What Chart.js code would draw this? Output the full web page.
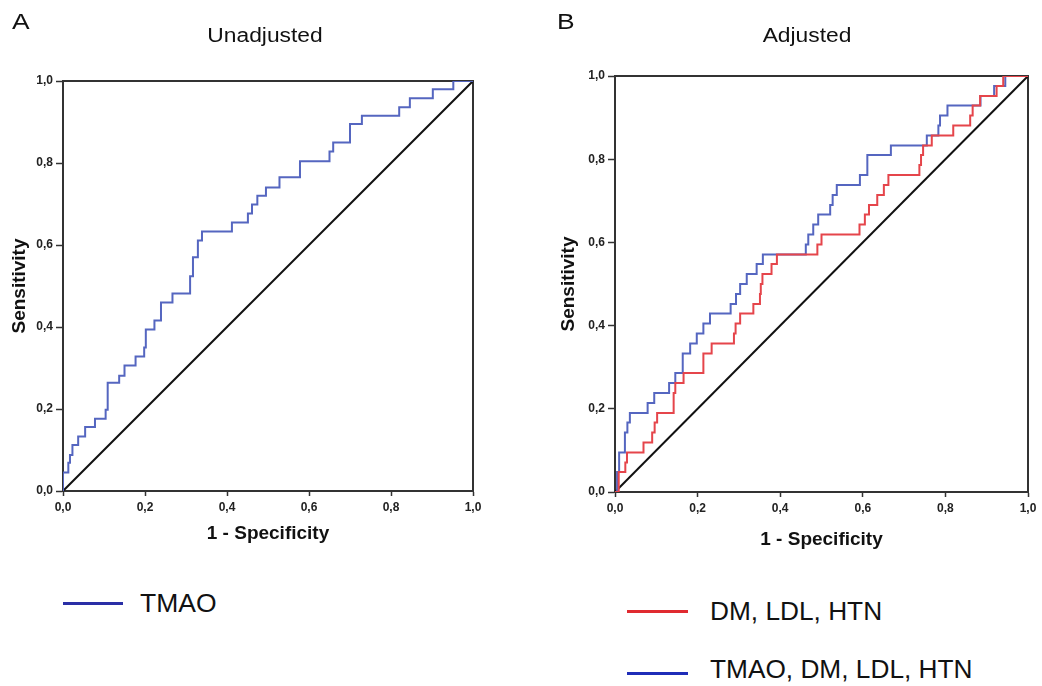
<!DOCTYPE html>
<html>
<head>
<meta charset="utf-8">
<script src="https://cdn.jsdelivr.net/npm/chart.js@4.4.1/dist/chart.umd.min.js"></script>
<style>
html,body{margin:0;padding:0;background:#fff;width:1042px;height:686px;overflow:hidden;font-family:"Liberation Sans",Arial,sans-serif;}
.txt{position:absolute;white-space:nowrap;color:#111;line-height:1;}
canvas{position:absolute;}
.lg-line{position:absolute;height:3px;}
</style>
</head>
<body>
<canvas id="cA" width="520" height="549" style="left:0;top:0"></canvas>
<canvas id="cB" width="502" height="555" style="left:540px;top:0"></canvas>
<div id="overlay"></div>
<script>
// ---------- data ----------
const tickLabels = ['0,0', '0,2', '0,4', '0,6', '0,8', '1,0'];
const panelLetters = ['A', 'B'];
const panelTitles = ['Unadjusted', 'Adjusted'];
const xAxisTitle = '1 - Specificity';
const yAxisTitle = 'Sensitivity';

// Panel A: TMAO (unadjusted) – corners of the ROC staircase
const tmaoFpr = [0, 0, 0.013, 0.017, 0.023, 0.037, 0.054, 0.078, 0.104, 0.109, 0.137, 0.150, 0.177, 0.198, 0.202, 0.223, 0.239, 0.267, 0.310, 0.317, 0.329, 0.339, 0.412, 0.451, 0.461, 0.474, 0.495, 0.528, 0.578, 0.650, 0.659, 0.700, 0.729, 0.820, 0.846, 0.902, 0.952, 1];
const tmaoTpr = [0, 0.045, 0.069, 0.088, 0.112, 0.133, 0.156, 0.176, 0.198, 0.264, 0.281, 0.306, 0.328, 0.350, 0.394, 0.416, 0.460, 0.482, 0.524, 0.570, 0.611, 0.633, 0.655, 0.677, 0.699, 0.720, 0.740, 0.765, 0.804, 0.828, 0.850, 0.895, 0.915, 0.936, 0.958, 0.980, 1.0, 1];

// Panel B: DM, LDL, HTN
const baseFpr = [0, 0.009, 0.025, 0.029, 0.069, 0.090, 0.096, 0.102, 0.142, 0.146, 0.166, 0.214, 0.234, 0.288, 0.292, 0.303, 0.335, 0.351, 0.353, 0.357, 0.379, 0.392, 0.490, 0.500, 0.592, 0.605, 0.615, 0.635, 0.651, 0.662, 0.737, 0.741, 0.746, 0.767, 0.819, 0.860, 0.866, 0.884, 0.924, 0.940, 1];
const baseTpr = [0, 0.048, 0.071, 0.095, 0.119, 0.143, 0.167, 0.190, 0.238, 0.262, 0.286, 0.333, 0.357, 0.381, 0.405, 0.429, 0.452, 0.476, 0.500, 0.524, 0.548, 0.571, 0.595, 0.619, 0.643, 0.667, 0.690, 0.714, 0.738, 0.762, 0.786, 0.810, 0.833, 0.857, 0.881, 0.905, 0.929, 0.952, 0.976, 1.0, 1];

// Panel B: TMAO, DM, LDL, HTN
const fullFpr = [0, 0.005, 0.010, 0.024, 0.030, 0.036, 0.079, 0.095, 0.131, 0.146, 0.164, 0.182, 0.198, 0.214, 0.230, 0.280, 0.293, 0.303, 0.319, 0.343, 0.358, 0.462, 0.468, 0.480, 0.492, 0.521, 0.527, 0.537, 0.593, 0.611, 0.668, 0.755, 0.783, 0.787, 0.805, 0.885, 0.918, 0.945, 1];
const fullTpr = [0, 0.048, 0.095, 0.143, 0.167, 0.190, 0.214, 0.238, 0.262, 0.286, 0.333, 0.357, 0.381, 0.405, 0.429, 0.452, 0.476, 0.500, 0.524, 0.548, 0.571, 0.595, 0.619, 0.643, 0.667, 0.690, 0.714, 0.738, 0.762, 0.810, 0.833, 0.857, 0.881, 0.905, 0.929, 0.952, 0.976, 1.0, 1];

const diagX = [0, 1];
const diagY = [0, 1];

const seriesLabels = ['TMAO', 'DM, LDL, HTN', 'TMAO, DM, LDL, HTN'];
const curveColors = ['#5566c0', '#e5454b', '#5566c0'];
const legendColors = ['#2a2fa6', '#e02a30', '#1f2db8'];

// ---------- helpers ----------
const pts = (xs, ys) => xs.map((x, i) => ({x: x, y: ys[i]}));

const framePlugin = {
  id: 'frame',
  beforeDatasetsDraw(chart) {
    const {ctx, chartArea: a} = chart;
    ctx.save();
    ctx.strokeStyle = '#333';
    ctx.lineWidth = 2;
    ctx.strokeRect(a.left, a.top, a.right - a.left, a.bottom - a.top);
    ctx.restore();
  }
};

function curve(label, xs, ys, color) {
  return {label: label, data: pts(xs, ys), showLine: true, stepped: 'before',
          borderColor: color, borderWidth: 2, pointRadius: 0, fill: false};
}

function makeChart(id, datasets, pad, yW, xH) {
  const tickFont = {family: 'Liberation Sans', size: 12, weight: 'bold'};
  const titleFont = {family: 'Liberation Sans', size: 19, weight: 'bold'};
  return new Chart(document.getElementById(id), {
    type: 'scatter',
    data: {datasets: datasets},
    options: {
      responsive: false, animation: false, devicePixelRatio: 1,
      layout: {padding: pad},
      plugins: {legend: {display: false}, tooltip: {enabled: false}, title: {display: false}},
      scales: {
        x: {
          type: 'linear', min: 0, max: 1,
          ticks: {stepSize: 0.2, color: '#222', font: tickFont, padding: 4, maxRotation: 0, autoSkip: false,
                  callback: (v, i) => tickLabels[i]},
          grid: {drawOnChartArea: false, drawTicks: true, tickLength: 5, tickColor: '#333', tickWidth: 1.5},
          border: {display: true, color: '#333', width: 2},
          title: {display: true, text: xAxisTitle, color: '#111', font: titleFont, padding: {top: 4, bottom: 4}},
          afterFit: s => { s.height = xH; }
        },
        y: {
          type: 'linear', min: 0, max: 1,
          ticks: {stepSize: 0.2, color: '#222', font: tickFont, padding: 3,
                  callback: (v, i) => tickLabels[i]},
          grid: {drawOnChartArea: false, drawTicks: true, tickLength: 7, tickColor: '#333', tickWidth: 1.5},
          border: {display: true, color: '#333', width: 2},
          title: {display: true, text: yAxisTitle, color: '#111', font: titleFont, padding: {top: 4, bottom: 4}},
          afterFit: s => { s.width = yW; }
        }
      }
    },
    plugins: [framePlugin]
  });
}

const chartA = makeChart('cA', [
  curve(seriesLabels[0], tmaoFpr, tmaoTpr, curveColors[0]),
  {label: 'ref', data: pts(diagX, diagY), showLine: true, borderColor: '#111', borderWidth: 2, pointRadius: 0}
], {left: 4, top: 81, right: 47, bottom: 0}, 59, 58);

const chartB = makeChart('cB', [
  curve(seriesLabels[1], baseFpr, baseTpr, curveColors[1]),
  curve(seriesLabels[2], fullFpr, fullTpr, curveColors[2]),
  {label: 'ref', data: pts(diagX, diagY), showLine: true, borderColor: '#111', borderWidth: 2, pointRadius: 0}
], {left: 13, top: 76, right: 14, bottom: 0}, 62, 63);

// ---------- titles and legends (HTML text) ----------
const ov = document.getElementById('overlay');
function addText(text, left, top, size, extra) {
  const d = document.createElement('div');
  d.className = 'txt';
  d.textContent = text;
  d.style.left = left + 'px';
  d.style.top = top + 'px';
  d.style.fontSize = size + 'px';
  if (extra) Object.assign(d.style, extra);
  ov.appendChild(d);
  return d;
}
function addLine(left, top, width, color) {
  const d = document.createElement('div');
  d.className = 'lg-line';
  d.style.left = left + 'px'; d.style.top = top + 'px';
  d.style.width = width + 'px'; d.style.background = color;
  ov.appendChild(d);
}
addText(panelLetters[0], 12, 11, 22, {transform: 'scaleX(1.2)', transformOrigin: 'left top'});
addText(panelLetters[1], 557, 11, 22, {transform: 'scaleX(1.2)', transformOrigin: 'left top'});
addText(panelTitles[0], 265, 25, 20, {transform: 'translateX(-50%) scaleX(1.14)'});
addText(panelTitles[1], 807, 25, 20, {transform: 'translateX(-50%) scaleX(1.14)'});

addLine(63, 602, 60, legendColors[0]);
addText(seriesLabels[0], 140, 591, 25, {transform: 'scaleX(1.06)', transformOrigin: 'left top'});
addLine(627, 610, 61, legendColors[1]);
addText(seriesLabels[1], 710, 599, 25, {transform: 'scaleX(1.05)', transformOrigin: 'left top'});
addLine(627, 672, 61, legendColors[2]);
addText(seriesLabels[2], 710, 657, 25, {transform: 'scaleX(1.05)', transformOrigin: 'left top'});
</script>
</body>
</html>
